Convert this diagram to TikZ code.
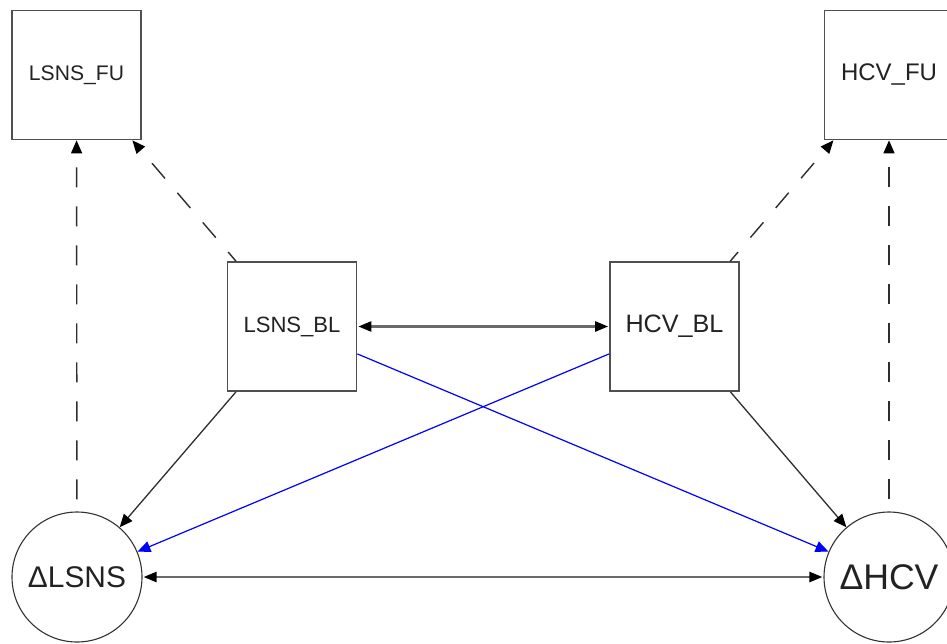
\documentclass[tikz,border=0pt]{standalone}
\usepackage{fontspec}
\setmainfont{Liberation Sans}
\usetikzlibrary{arrows.meta}
\definecolor{edgec}{HTML}{2E2E2E}
\definecolor{bordc}{HTML}{505050}
\definecolor{covc}{HTML}{6A6A6A}
\definecolor{txtc}{HTML}{222222}
\begin{document}
\begin{tikzpicture}[x=1pt,y=-1pt,
  obs/.style={draw=bordc,line width=1.7pt,fill=white,minimum width=129pt,minimum height=129pt,inner sep=0pt,text=txtc},
  lat/.style={draw=black!80,line width=1.1pt,fill=white,circle,minimum size=130pt,inner sep=0pt,text=txtc},
  reg/.style={draw=edgec,line width=1.3pt,-{Triangle[length=13pt,width=11pt,color=black]}},
  regblue/.style={draw=blue,line width=1.2pt,-{Triangle[length=13pt,width=11pt]}},
  res/.style={draw=edgec,line width=1.4pt,dash pattern=on 20pt off 19pt,-{Triangle[length=13pt,width=11pt,color=black]}},
  cov/.style={draw=covc,line width=2.4pt,{Triangle[length=13pt,width=10pt,color=black]}-{Triangle[length=13pt,width=10pt,color=black]}}
]
\useasboundingbox (0,0) rectangle (947,643);
% nodes
\node[obs] (lfu) at (76.5,75) {\resizebox{95pt}{!}{LSNS\_FU}};
\node[obs] (hfu) at (889,75) {\resizebox{96pt}{!}{HCV\_FU}};
\node[obs] (lbl) at (292,326.5) {\resizebox{97pt}{!}{LSNS\_BL}};
\node[obs] (hbl) at (674.5,326.5) {\resizebox{98pt}{!}{HCV\_BL}};
\node[lat] (dl) at (77,577) {\resizebox{98pt}{!}{ΔLSNS}};
\node[lat] (dh) at (889,577) {\resizebox{99pt}{!}{ΔHCV}};
% regressions
\draw[reg] (lbl) -- (dl);
\draw[reg] (hbl) -- (dh);
\draw[regblue] (lbl) -- (dh);
\draw[regblue] (hbl) -- (dl);
% residual / dashed paths
\draw[res,dash phase=27pt] (dl) -- (lfu);
\draw[res,dash phase=27pt] (dh) -- (hfu);
\draw[res,dash phase=8pt] (lbl) -- (lfu);
\draw[res,dash phase=8pt] (hbl) -- (hfu);
% covariances
\draw[cov,shorten <=1pt,shorten >=1pt] (lbl) -- (hbl);
\draw[cov,shorten <=1pt,shorten >=1pt] (dl) -- (dh);
\end{tikzpicture}
\end{document}
